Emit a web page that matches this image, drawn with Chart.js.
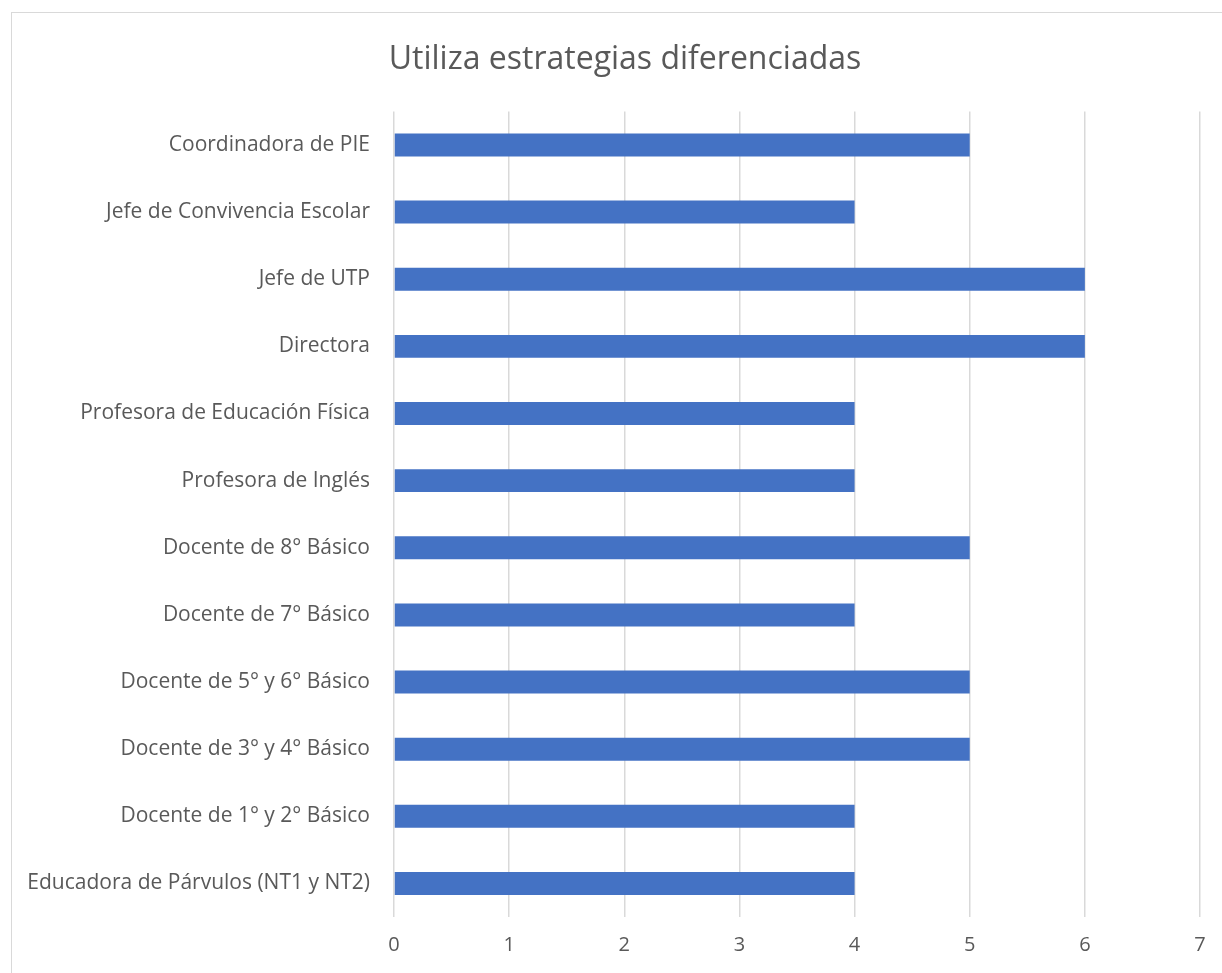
<!DOCTYPE html>
<html>
<head>
<meta charset="utf-8">
<script src="https://cdn.jsdelivr.net/npm/chart.js@4.4.1/dist/chart.umd.min.js"></script>
<style>
  html, body { margin: 0; padding: 0; background: #fff; overflow: hidden; }
  #frame {
    position: absolute; left: 11px; top: 12px;
    width: 1228px; height: 1000px;
    border: 1px solid #d9d9d9; box-sizing: border-box;
  }
  #myChart { position: absolute; left: 11px; top: 12px; }
</style>
</head>
<body>
<div id="frame"></div>
<canvas id="myChart" width="1228" height="1000"></canvas>
<script>
// categories, top to bottom
const categories = [
  "Coordinadora de PIE",
  "Jefe de Convivencia Escolar",
  "Jefe de UTP",
  "Directora",
  "Profesora de Educación Física",
  "Profesora de Inglés",
  "Docente de 8° Básico",
  "Docente de 7° Básico",
  "Docente de 5° y 6° Básico",
  "Docente de 3° y 4° Básico",
  "Docente de 1° y 2° Básico",
  "Educadora de Párvulos (NT1 y NT2)",
];
const values = [5, 4, 6, 6, 4, 4, 5, 4, 5, 5, 4, 4];
const xTicks = [0, 1, 2, 3, 4, 5, 6, 7];

const textColor = "#595959";
const gridColor = "#d9d9d9";

var ctx = document.getElementById("myChart");
var myChart = new Chart(ctx, {
  type: "bar",
  data: {
    labels: categories,
    datasets: [
      {
        label: "Utiliza estrategias diferenciadas",
        data: values,
        backgroundColor: "#4472C4",
        borderWidth: 0,
        barPercentage: 0.342,
        categoryPercentage: 1,
      },
    ],
  },
  options: {
    indexAxis: "y",
    responsive: false,
    animation: false,
    layout: { padding: { top: 0, right: 0, bottom: 45, left: 0 } },
    plugins: {
      legend: { display: false },
      tooltip: { enabled: false },
      title: {
        display: true,
        text: "Utiliza estrategias diferenciadas",
        color: textColor,
        font: { family: "'Open Sans'", size: 32, weight: "normal", lineHeight: 1.2 },
        padding: { top: 29, bottom: 32 },
      },
    },
    scales: {
      x: {
        min: 0,
        max: 7,
        afterBuildTicks: (scale) => {
          scale.ticks = xTicks.map((v) => ({ value: v }));
        },
        afterFit: (scale) => { scale.height = 50; },
        grid: { color: gridColor, lineWidth: 1.5, drawTicks: false },
        border: { display: false },
        ticks: {
          color: textColor,
          padding: 16,
          font: { family: "'Open Sans'", size: 20 },
        },
      },
      y: {
        afterFit: (scale) => { scale.width = 383; },
        grid: { display: false, drawTicks: false },
        border: { display: false },
        ticks: {
          color: textColor,
          padding: 24,
          font: { family: "'Open Sans'", size: 21 },
        },
      },
      // empty right-hand spacer so the title stays centred on the whole frame
      spacer: {
        type: "linear",
        axis: "y",
        position: "right",
        afterFit: (scale) => { scale.width = 39; },
        grid: { display: false, drawTicks: false },
        border: { display: false },
        ticks: { display: false },
      },
    },
  },
});
</script>
</body>
</html>
